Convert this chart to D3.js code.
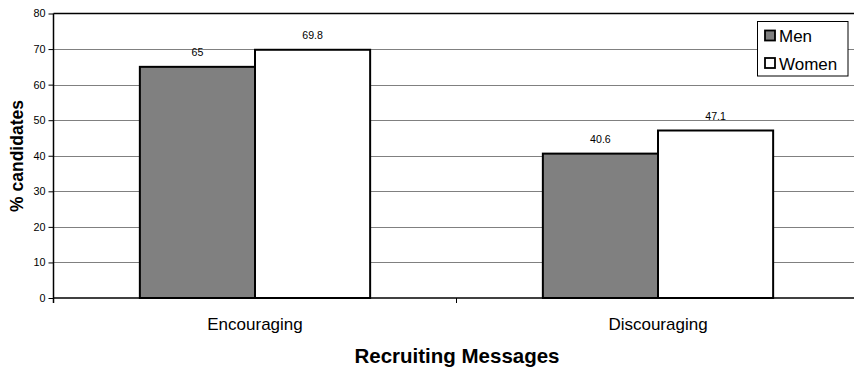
<!DOCTYPE html>
<html><head><meta charset="utf-8">
<script src="https://cdn.jsdelivr.net/npm/d3@7"></script>
<style>body{margin:0;background:#fff}svg{display:block}text{font-family:"Liberation Sans",Arial,sans-serif}</style>
</head><body><svg id="c" width="854" height="367"></svg>
<script>
const categories = ["Encouraging", "Discouraging"];
const seriesNames = ["Men", "Women"];
const men = [65, 40.6];
const women = [69.8, 47.1];
const yTicks = [0, 10, 20, 30, 40, 50, 60, 70, 80];
const colors = {Men: "#808080", Women: "#ffffff"};

(function () {
const svg = d3.select("#c");
const pLeft = 53.5, pRight = 859.5, pTop = 13.5, pBottom = 298;
const x = d3.scaleBand().domain(categories).range([pLeft, pRight]).paddingInner(0).paddingOuter(0);
const xs = d3.scaleBand().domain(seriesNames).range([0, x.bandwidth()]).paddingInner(0).paddingOuter(0.75);
const y = d3.scaleLinear().domain([0, 80]).range([pBottom, pTop]);

// gridlines
svg.append("g").selectAll("line").data(yTicks.filter(d => d > 0 && d < 80)).join("line")
  .attr("x1", pLeft).attr("x2", 854).attr("y1", d => Math.round(y(d)) + 0.5).attr("y2", d => Math.round(y(d)) + 0.5)
  .attr("stroke", "#808080").attr("stroke-width", 1);
// top border
svg.append("line").attr("x1", pLeft).attr("x2", 854).attr("y1", pTop).attr("y2", pTop).attr("stroke", "#000").attr("stroke-width", 1.5);

const data = [];
categories.forEach((c, i) => {
  data.push({c, s: "Men", v: men[i]});
  data.push({c, s: "Women", v: women[i]});
});

svg.append("g").selectAll("rect").data(data).join("rect")
  .attr("x", d => x(d.c) + xs(d.s)).attr("width", xs.bandwidth())
  .attr("y", d => y(d.v)).attr("height", d => y(0) - y(d.v))
  .attr("fill", d => colors[d.s]).attr("stroke", "#000").attr("stroke-width", 2);

svg.append("g").selectAll("text").data(data).join("text")
  .attr("x", d => x(d.c) + xs(d.s) + xs.bandwidth() / 2).attr("y", d => y(d.v) - 11)
  .attr("text-anchor", "middle").attr("font-size", 10.6).attr("fill", "#000").text(d => d.v);

// y axis
const yAxis = svg.append("g").attr("transform", `translate(${pLeft},0)`)
  .call(d3.axisLeft(y).tickValues(yTicks).tickSize(5).tickPadding(3));
yAxis.select(".domain").attr("stroke", "#000").attr("stroke-width", 1.5).attr("d", `M0,${pTop}V${pBottom + 5}`);
yAxis.selectAll(".tick line").attr("stroke", "#000").attr("stroke-width", 1);
yAxis.selectAll(".tick text").attr("font-size", 10.8).attr("fill", "#000").attr("font-family", "Liberation Sans, Arial, sans-serif");

// x axis
const xAxis = svg.append("g").attr("transform", `translate(0,${pBottom})`)
  .call(d3.axisBottom(x).tickSize(0).tickPadding(0));
xAxis.select(".domain").attr("stroke", "#000").attr("stroke-width", 1.5).attr("d", `M${pLeft},0H854`);
xAxis.selectAll(".tick text").attr("font-size", 17).attr("fill", "#000").attr("dy", null).attr("y", 32)
  .attr("font-family", "Liberation Sans, Arial, sans-serif");
svg.append("g").selectAll("line").data(categories.slice(1)).join("line")
  .attr("x1", d => x(d)).attr("x2", d => x(d)).attr("y1", pBottom).attr("y2", pBottom + 5)
  .attr("stroke", "#000").attr("stroke-width", 1);

// axis titles
svg.append("text").attr("transform", "translate(23,156) rotate(-90)").attr("text-anchor", "middle")
  .attr("font-size", 17.5).attr("font-weight", "bold").text("% candidates");
svg.append("text").attr("x", 457).attr("y", 363).attr("text-anchor", "middle")
  .attr("font-size", 20.5).attr("font-weight", "bold").text("Recruiting Messages");

// legend
const lg = svg.append("g");
lg.append("rect").attr("x", 757.5).attr("y", 21.5).attr("width", 90.5).attr("height", 54.5)
  .attr("fill", "#fff").attr("stroke", "#000").attr("stroke-width", 1);
seriesNames.forEach((s, i) => {
  const yy = 30.5 + i * 27.5;
  lg.append("rect").attr("x", 765).attr("y", yy).attr("width", 10).attr("height", 10)
    .attr("fill", colors[s]).attr("stroke", "#000").attr("stroke-width", 1.8);
  lg.append("text").attr("x", 779).attr("y", yy + 11.5).attr("font-size", 17).text(s);
});
})();
</script></body></html>
